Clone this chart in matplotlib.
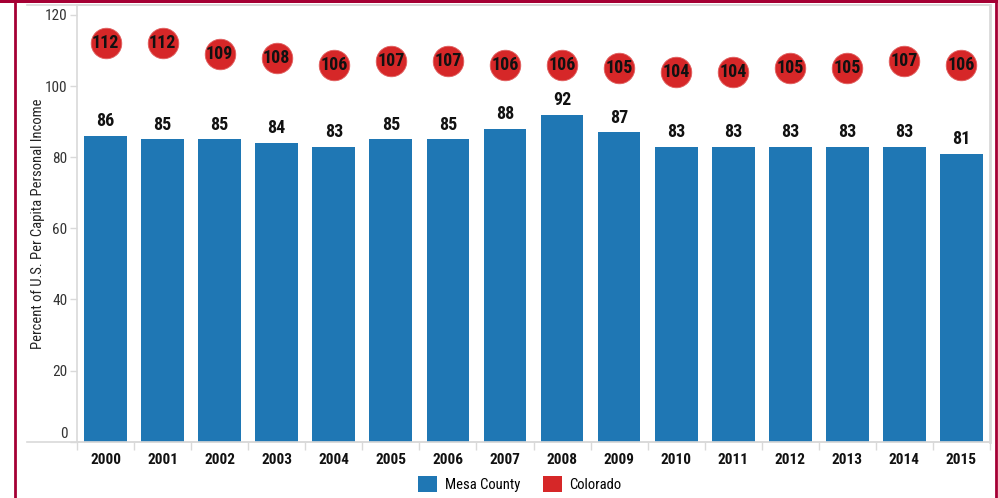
import matplotlib
matplotlib.use("Agg")
import matplotlib.pyplot as plt
from matplotlib import font_manager
from matplotlib.patches import Patch, Rectangle
from matplotlib.lines import Line2D
from matplotlib.transforms import ScaledTranslation

# Data
years = [str(y) for y in range(2000, 2016)]
mesa_county = [86, 85, 85, 84, 83, 85, 85, 88, 92, 87, 83, 83, 83, 83, 83, 81]
colorado = [112, 112, 109, 108, 106, 107, 107, 106, 106, 105, 104, 104, 105, 105, 107, 106]
y_ticks = [0, 20, 40, 60, 80, 100, 120]

BLUE = "#1f77b4"
RED = "#d62728"
MAROON = "#a50034"
GRID_GRAY = "#d9d9d9"

# Prefer a narrow sans face when one is available
installed = {f.name for f in font_manager.fontManager.ttflist}
NARROW, narrow_scale = "Liberation Sans", 0.85
for name in ["Liberation Sans Narrow", "Arial Narrow", "Roboto Condensed",
             "Open Sans Condensed", "Noto Sans Condensed"]:
    if name in installed:
        NARROW, narrow_scale = name, 1.0
        break
REGULAR = "Liberation Sans"
plt.rcParams["font.family"] = [REGULAR, "DejaVu Sans"]
NARROW_FAM = [NARROW, "DejaVu Sans"]

W, H = 998, 498
fig = plt.figure(figsize=(W / 100, H / 100), dpi=100)

ax_left, ax_right = 77, 990
ax_top, ax_bottom = 5, 441.7
ax = fig.add_axes([ax_left / W, 1 - ax_bottom / H, (ax_right - ax_left) / W, (ax_bottom - ax_top) / H])

x = list(range(len(years)))
ax.bar(x, mesa_county, width=0.75, color=BLUE, zorder=2)
ax.plot(x, colorado, linestyle="none", marker="o", markersize=22,
        markerfacecolor=RED, markeredgecolor="#e06060", markeredgewidth=0.6, zorder=3)

for xi, v in zip(x, mesa_county):
    ax.annotate(str(v), (xi, v), xytext=(0, 4), textcoords="offset points",
                ha="center", va="bottom", fontsize=13 * narrow_scale,
                fontweight="bold", family=NARROW_FAM, color="#111111")
for xi, v in zip(x, colorado):
    ax.text(xi, v, str(v), ha="center", va="center", fontsize=13 * narrow_scale,
            fontweight="bold", family=NARROW_FAM, color="#111111", zorder=4)

ax.set_xlim(-0.5, len(years) - 0.5)
ax.set_ylim(0, (ax_bottom - ax_top) / 3.556)

# Axes styling
for side in ["left", "right", "top", "bottom"]:
    ax.spines[side].set_color(GRID_GRAY)
    ax.spines[side].set_linewidth(1.2)
ax.spines["right"].set_linewidth(2)

ax.set_yticks(y_ticks)
ax.set_yticklabels([str(t) for t in y_ticks])
ax.tick_params(axis="y", length=5, width=1, color=GRID_GRAY, pad=2,
               labelsize=11 * narrow_scale, labelcolor="#333333")
for lab in ax.get_yticklabels():
    lab.set_family(NARROW_FAM)
    if lab.get_text() == "0":
        lab.set_transform(lab.get_transform() + ScaledTranslation(0, 9 / 100, fig.dpi_scale_trans))

ax.set_xticks(x)
ax.set_xticklabels(years)
ax.set_xticks([i - 0.5 for i in range(len(years) + 1)], minor=True)
ax.tick_params(axis="x", which="major", length=0, pad=8,
               labelsize=11 * narrow_scale, labelcolor="#111111")
ax.tick_params(axis="x", which="minor", length=6, width=1, color=GRID_GRAY)
for lab in ax.get_xticklabels():
    lab.set_family(NARROW_FAM)
    lab.set_fontweight("bold")

# Top and bottom rules reaching past the y axis
x0 = (27 - ax_left) / (ax_right - ax_left)
for yy in (0, 1):
    ax.add_line(Line2D([x0, 1], [yy, yy], transform=ax.transAxes, color=GRID_GRAY,
                       linewidth=1.2, clip_on=False, zorder=1))

fig.text(38 / W, 1 - 224 / H, "Percent of U.S. Per Capita Personal Income",
         rotation=90, ha="center", va="center", fontsize=10.5 * narrow_scale,
         family=NARROW_FAM, color="#222222")

handles = [Patch(facecolor=BLUE, label="Mesa County"), Patch(facecolor=RED, label="Colorado")]
fig.legend(handles=handles, loc="center", bbox_to_anchor=(520 / W, 1 - 484 / H), ncol=2,
           frameon=False, prop={"family": NARROW_FAM, "size": 10.5 * narrow_scale},
           handlelength=1.3, handleheight=1.3, handletextpad=0.5, columnspacing=1.6,
           borderpad=0, borderaxespad=0)

# Outer maroon frame
fig.patches.append(Rectangle((0, 1 - 3 / H), 1, 3 / H, transform=fig.transFigure,
                             facecolor=MAROON, edgecolor="none"))
for xx in (15, 996):
    fig.add_artist(Line2D([xx / W, xx / W], [0, 1], transform=fig.transFigure,
                          color=MAROON, linewidth=2))

fig.savefig("out.png", dpi=100)
